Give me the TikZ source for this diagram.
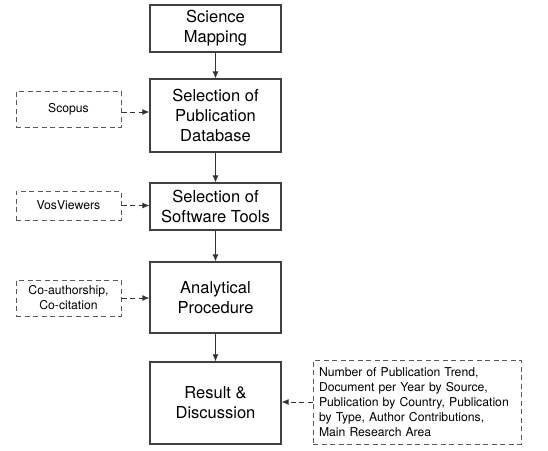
\documentclass[tikz,border=0pt]{standalone}
\usepackage{fontspec}
\setmainfont{TeX Gyre Heros}
\usetikzlibrary{arrows.meta}

\begin{document}
\begin{tikzpicture}[x=1pt,y=-1pt,
		stage/.style={draw=black!75,line width=1.1pt,minimum width=131pt,align=center,inner sep=0pt,font=\fontsize{16.5}{20}\selectfont},
		source/.style={draw=black!65,line width=1pt,dash pattern=on 5pt off 3.5pt,minimum width=105pt,align=center,inner sep=0pt,font=\fontsize{12.2}{15}\selectfont},
		flow/.style={draw=black!80,line width=1pt,-{Latex[length=7pt,width=6pt]}},
		feed/.style={flow,dash pattern=on 5pt off 3.5pt}]
	\useasboundingbox (0,0) rectangle (548,450);

	\node[stage,minimum height=47pt] (mapping) at (215.5,28.5) {Science\\Mapping};
	\node[stage,minimum height=73pt] (database) at (215.5,115.5) {Selection of\\Publication\\Database};
	\node[stage,minimum height=47pt] (software) at (215.5,206.5) {Selection of\\Software Tools};
	\node[stage,minimum height=71pt] (procedure) at (215.5,297.5) {Analytical\\Procedure};
	\node[stage,minimum height=82pt] (result) at (215.5,403) {Result \&\\Discussion};

	\node[source,minimum height=36pt] (scopus) at (68.5,109) {Scopus};
	\node[source,minimum height=29pt] (vos) at (68.5,205.5) {VosViewers};
	\node[source,minimum height=36pt] (coauthor) at (68.5,298) {Co-authorship,\\Co-citation};
	\node[source,minimum width=208pt,minimum height=84pt,text width=196pt,align=left] (outputs) at (417,402)
		{Number of Publication Trend,\\Document per Year by Source,\\Publication by Country, Publication\\by Type, Author Contributions,\\Main Research Area};

	\draw[flow] (mapping) -- (database);
	\draw[flow] (database) -- (software);
	\draw[flow] (software) -- (procedure);
	\draw[flow] (procedure) -- (result);

	\draw[feed] (scopus.east) ++(0,3) -- (database.west |- 0,112);
	\draw[feed] (vos) -- (vos -| software.west);
	\draw[feed] (coauthor) -- (coauthor -| procedure.west);
	\draw[feed] (outputs) -- (outputs -| result.east);
\end{tikzpicture}
\end{document}
